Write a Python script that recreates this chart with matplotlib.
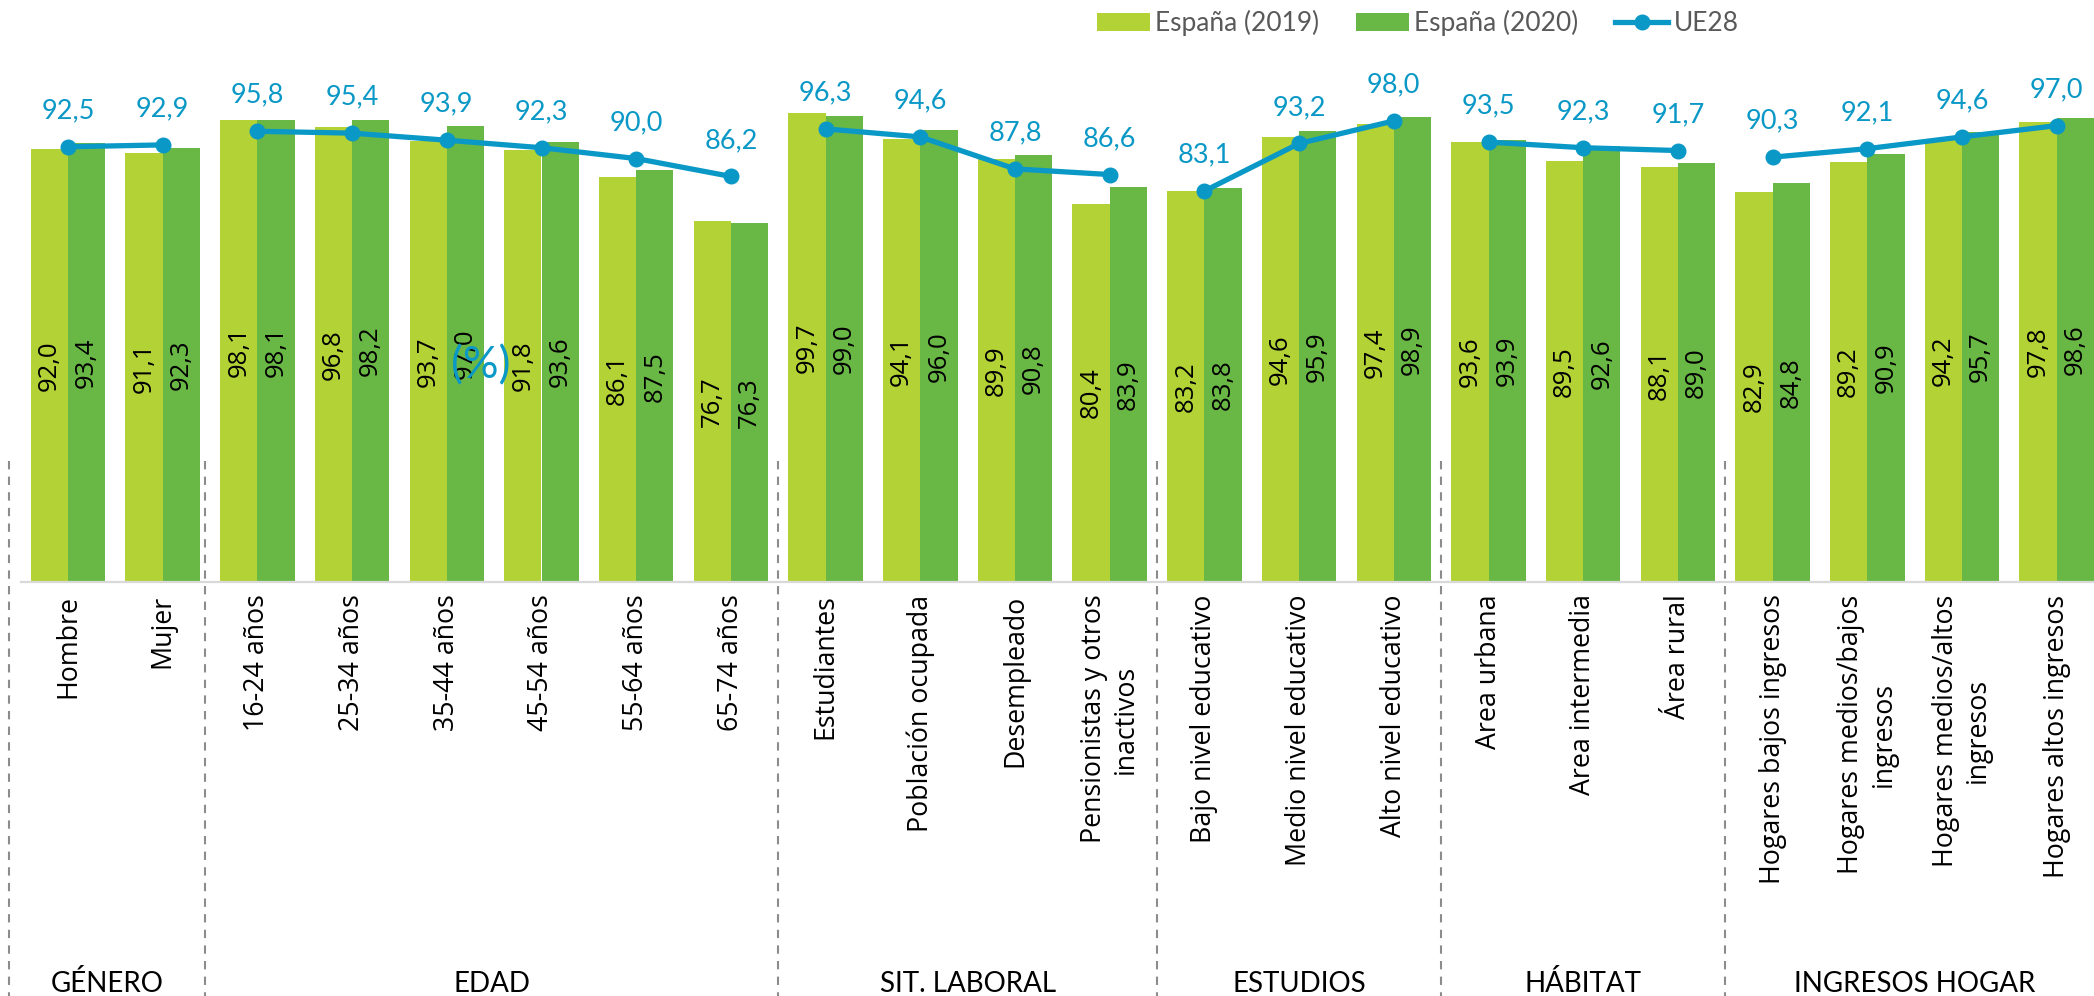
import numpy as np
import matplotlib
matplotlib.use("Agg")
import matplotlib.pyplot as plt
import matplotlib.transforms as mtransforms
from matplotlib.patches import Patch
from matplotlib.lines import Line2D

# --- data
categorias = ["Hombre", "Mujer",
              "16-24 años", "25-34 años", "35-44 años", "45-54 años", "55-64 años", "65-74 años",
              "Estudiantes", "Población ocupada", "Desempleado", "Pensionistas y otros\ninactivos",
              "Bajo nivel educativo", "Medio nivel educativo", "Alto nivel educativo",
              "Area urbana", "Area intermedia", "Área rural",
              "Hogares bajos ingresos", "Hogares medios/bajos\ningresos",
              "Hogares medios/altos\ningresos", "Hogares altos ingresos"]
espana_2019 = [92.0, 91.1, 98.1, 96.8, 93.7, 91.8, 86.1, 76.7, 99.7, 94.1, 89.9, 80.4,
               83.2, 94.6, 97.4, 93.6, 89.5, 88.1, 82.9, 89.2, 94.2, 97.8]
espana_2020 = [93.4, 92.3, 98.1, 98.2, 97.0, 93.6, 87.5, 76.3, 99.0, 96.0, 90.8, 83.9,
               83.8, 95.9, 98.9, 93.9, 92.6, 89.0, 84.8, 90.9, 95.7, 98.6]
ue28 = [92.5, 92.9, 95.8, 95.4, 93.9, 92.3, 90.0, 86.2, 96.3, 94.6, 87.8, 86.6,
        83.1, 93.2, 98.0, 93.5, 92.3, 91.7, 90.3, 92.1, 94.6, 97.0]
grupos = ["GÉNERO", "EDAD", "SIT. LABORAL", "ESTUDIOS", "HÁBITAT", "INGRESOS HOGAR"]
grupo_inicio = [0, 2, 8, 12, 15, 18]
grupo_fin = [1, 7, 11, 14, 17, 21]

VERDE_CLARO = "#B2D235"
VERDE = "#69B845"
AZUL = "#0A98C6"

def fmt(v):
    return f"{v:.1f}".replace(".", ",")

fig = plt.figure(figsize=(20.94, 9.96), dpi=100)
# axes runs a bit past the right edge of the figure, as in the reference
ax = fig.add_axes([20.65 / 2094, 414 / 996, 2083.4 / 2094, 470.5 / 996])
ax.set_xlim(-0.5, len(categorias) - 0.5)
ax.set_ylim(0, 100)

x = np.arange(len(categorias))
w = 0.393
ax.bar(x - w / 2, espana_2019, w, color=VERDE_CLARO, zorder=2)
ax.bar(x + w / 2, espana_2020, w, color=VERDE, zorder=2)

# values inside the bars
for xi, a, b in zip(x, espana_2019, espana_2020):
    ax.text(xi - w / 2, a / 2, fmt(a), rotation=90, ha="center", va="center",
            fontsize=18.5, family="Open Sans", color="black", zorder=3)
    ax.text(xi + w / 2, b / 2, fmt(b), rotation=90, ha="center", va="center",
            fontsize=18.5, family="Open Sans", color="black", zorder=3)

# UE28 line, one segment per group
for i0, i1 in zip(grupo_inicio, grupo_fin):
    ax.plot(x[i0:i1 + 1], ue28[i0:i1 + 1], color=AZUL, lw=3.8, marker="o",
            ms=10.5, zorder=4, clip_on=False)
for xi, v in zip(x, ue28):
    ax.annotate(fmt(v), (xi, v), xytext=(0, 26), textcoords="offset points",
                ha="center", va="center", fontsize=19.5, family="Lato",
                color=AZUL, zorder=5, annotation_clip=False)

# misplaced axis title, kept as in the reference
ax.text(4.36, 45.9, "(%)", ha="center", va="center", fontsize=32,
        family="Lato", color=AZUL, zorder=6)

# axes styling
for s in ["top", "right", "left"]:
    ax.spines[s].set_visible(False)
ax.spines["bottom"].set_color("#D9D9D9")
ax.spines["bottom"].set_linewidth(1.6)
ax.set_yticks([])
ax.set_xticks(x)
ax.set_xticklabels(categorias, rotation=90, fontsize=19.3, family="Open Sans")
for lbl in ax.get_xticklabels():
    lbl.set_multialignment("center")
ax.tick_params(axis="x", length=0, pad=9)

# dashed group separators
sep = [-0.623, 1.45, 7.5, 11.5, 14.5, 17.5]
for s in sep:
    ax.plot([s, s], [25.7, -90], color="#8C8C8C", lw=1.5,
            linestyle=(0, (4, 3.5)), clip_on=False, zorder=1)

# group names at the very bottom
trans = mtransforms.blended_transform_factory(ax.transData, fig.transFigure)
lims = sep + [len(categorias) - 0.5]
for k, g in enumerate(grupos):
    ax.text((lims[k] + lims[k + 1]) / 2, 4 / 996, g, transform=trans,
            ha="center", va="baseline", fontsize=20, family="Lato", color="black")

# legend
handles = [Patch(facecolor=VERDE_CLARO), Patch(facecolor=VERDE),
           Line2D([], [], color=AZUL, lw=3.8, marker="o", ms=10.5)]
leg = fig.legend(handles, ["España (2019)", "España (2020)", "UE28"],
                 loc="center left", bbox_to_anchor=(1097 / 2094, 1 - 23 / 996),
                 ncol=3, frameon=False, prop={"family": "Lato", "size": 19},
                 handlelength=2.0, handleheight=0.7, handletextpad=0.2,
                 columnspacing=1.4, borderpad=0, borderaxespad=0)
for t in leg.get_texts():
    t.set_color("#595959")

fig.savefig("out.png", dpi=100)
